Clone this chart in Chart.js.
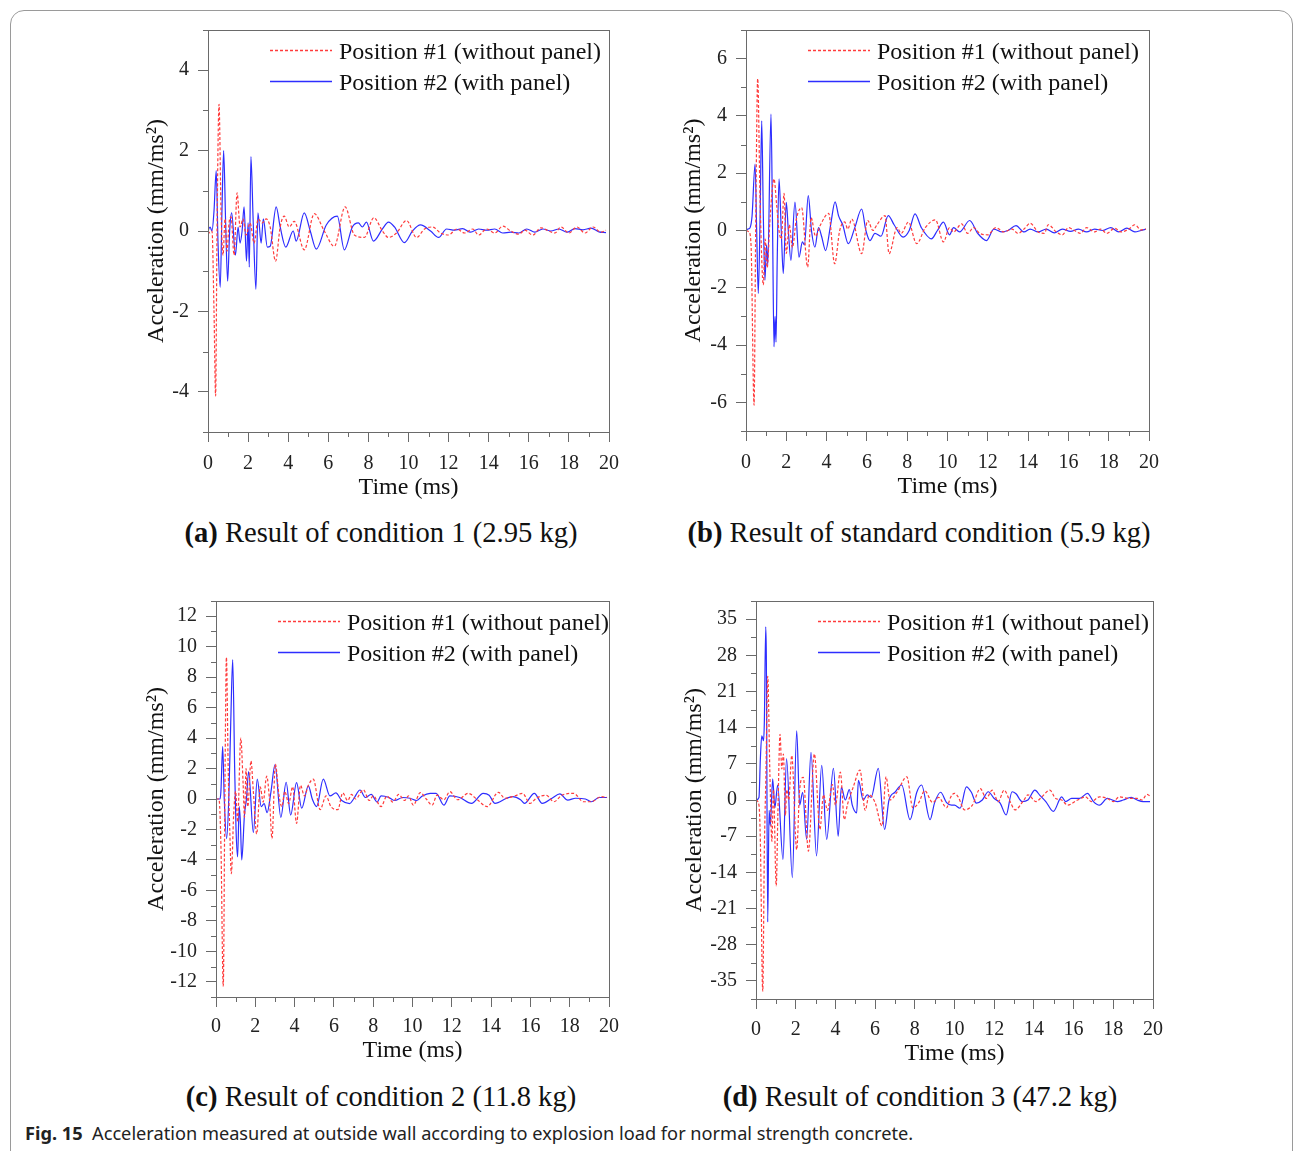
<!DOCTYPE html>
<html>
<head>
<meta charset="utf-8">
<script src="https://cdn.jsdelivr.net/npm/chart.js@4.4.1/dist/chart.umd.min.js"></script>
<style>
  body { margin: 0; background: #fff; width: 1295px; height: 1151px; position: relative; overflow: hidden; font-family: "Liberation Serif", serif; }
  .frame { position: absolute; left: 10px; top: 10px; width: 1283px; height: 1170px; border: 1px solid #9a9a9a; border-radius: 14px; box-sizing: border-box; }
  canvas { position: absolute; }
  .cap { position: absolute; font-size: 28.6px; line-height: 34px; color: #111; white-space: nowrap; transform: translateX(-50%); }
  .fig { position: absolute; left: 25px; top: 1121px; font-family: "Noto Sans", sans-serif; font-size: 18.2px; line-height: 24px; color: #222; white-space: nowrap; }
</style>
</head>
<body>
<div class="frame"></div>

<canvas id="chartA" width="501" height="492" style="left:128px;top:20px"></canvas>
<canvas id="chartB" width="503" height="491" style="left:666px;top:20px"></canvas>
<canvas id="chartC" width="493" height="486" style="left:136px;top:591px"></canvas>
<canvas id="chartD" width="497" height="488" style="left:676px;top:591px"></canvas>

<div class="cap" style="left:381px;top:516px"><b>(a)</b> Result of condition 1 (2.95 kg)</div>
<div class="cap" style="left:919px;top:516px"><b>(b)</b> Result of standard condition (5.9 kg)</div>
<div class="cap" style="left:381px;top:1080px"><b>(c)</b> Result of condition 2 (11.8 kg)</div>
<div class="cap" style="left:920px;top:1080px"><b>(d)</b> Result of condition 3 (47.2 kg)</div>
<div class="fig"><b>Fig. 15</b>&nbsp;&nbsp;Acceleration measured at outside wall according to explosion load for normal strength concrete.</div>

<script>
// ---- labels ----
const labelRed = 'Position #1 (without panel)';
const labelBlue = 'Position #2 (with panel)';

// ---- tick values ----
const xTicks = [0, 2, 4, 6, 8, 10, 12, 14, 16, 18, 20];
const xMinor = [1, 3, 5, 7, 9, 11, 13, 15, 17, 19];
const yTicksA = [-4, -2, 0, 2, 4];
const yMinorA = [-5, -3, -1, 1, 3, 5];
const yTicksB = [-6, -4, -2, 0, 2, 4, 6];
const yMinorB = [-7, -5, -3, -1, 1, 3, 5, 7];
const yTicksC = [-12, -10, -8, -6, -4, -2, 0, 2, 4, 6, 8, 10, 12];
const yMinorC = [-13, -11, -9, -7, -5, -3, -1, 1, 3, 5, 7, 9, 11, 13];
const yTicksD = [-35, -28, -21, -14, -7, 0, 7, 14, 21, 28, 35];
const yMinorD = [-38.5, -31.5, -24.5, -17.5, -10.5, -3.5, 3.5, 10.5, 17.5, 24.5, 31.5, 38.5];

// ---- series: [time (ms), acceleration] ----
// (a) condition 1, 2.95 kg
const redA = [[0,0],[0.1,-0.05],[0.2,0],[0.3,-2.0],[0.38,-4.1],[0.45,0],[0.55,3.15],[0.65,0.5],[0.75,-0.6],[0.85,0.3],
  [0.95,-0.5],[1.05,0.2],[1.15,0.35],[1.3,-0.6],[1.45,0.95],[1.6,0.1],[1.75,0.3],[1.9,-0.1],[2.1,0.2],[2.3,-0.3],
  [2.5,0.3],[2.7,0.2],[2.9,0.3],[3.1,0.1],[3.37,-0.75],[3.6,0.1],[3.8,0.37],[4.05,0.1],[4.3,0.24],[4.8,-0.47],
  [5.3,0.43],[5.8,0],[6.3,-0.38],[6.84,0.6],[7.3,-0.1],[7.8,-0.16],[8.27,0.33],[8.7,0],[9.0,-0.16],[9.4,-0.05],
  [9.9,0.26],[10.4,-0.16],[10.8,0.05],[11.2,0.1],[11.6,-0.05],[12.0,-0.1],[12.4,0.05],[12.8,-0.05],[13.2,0.05],[13.5,-0.1],
  [13.9,0.05],[14.3,-0.05],[14.7,0.12],[15.1,0],[15.5,-0.08],[15.8,0.02],[16.2,-0.1],[16.6,0.08],[17.0,0],[17.3,-0.05],
  [17.6,0.1],[18.0,-0.05],[18.4,0.1],[18.8,-0.05],[19.2,0.1],[19.6,-0.03],[19.85,0.02]];
const blueA = [[0,0],[0.1,0.1],[0.2,0],[0.3,0.5],[0.41,1.5],[0.5,-0.3],[0.61,-1.4],[0.7,0.6],[0.78,2.0],[0.88,0.2],
  [0.98,-1.25],[1.08,0],[1.18,0.45],[1.37,-0.6],[1.5,0.1],[1.6,-0.3],[1.7,0],[1.8,0.6],[1.92,-0.75],[2.0,0.2],
  [2.06,-0.9],[2.14,1.85],[2.25,0.3],[2.39,-1.45],[2.49,0.45],[2.65,-0.3],[2.76,0.3],[2.96,-0.4],[3.1,-0.38],[3.4,0.6],
  [3.6,0.1],[3.88,-0.4],[4.25,0],[4.4,-0.25],[4.8,0.45],[5.1,0],[5.4,-0.45],[5.9,0.15],[6.45,0.37],[6.8,-0.47],
  [7.2,0.1],[7.5,0.2],[7.7,0.1],[7.9,0.22],[8.25,-0.25],[8.7,0.05],[9.0,0.22],[9.3,0.1],[9.8,-0.29],[10.2,0],
  [10.6,0.15],[11.1,0],[11.5,-0.16],[11.9,0.05],[12.3,0.02],[12.7,0.06],[13.1,-0.03],[13.5,0.05],[13.9,0.02],[14.3,0.05],
  [14.7,-0.05],[15.1,-0.03],[15.5,-0.05],[15.9,0.05],[16.3,-0.03],[16.7,0.05],[17.1,0],[17.5,0.05],[17.9,-0.03],[18.3,0.06],
  [18.7,0.03],[19.1,0.07],[19.5,-0.02],[19.85,-0.04]];

// (b) standard condition, 5.9 kg
const redB = [[0,0],[0.15,-0.05],[0.25,-0.5],[0.4,-6.1],[0.48,0],[0.58,5.3],[0.7,1.0],[0.86,-1.9],[0.95,-0.3],[1.05,-1.3],
  [1.2,0.5],[1.39,1.8],[1.52,0.9],[1.62,0.1],[1.75,-0.3],[1.89,1.3],[2.0,-0.8],[2.15,0.2],[2.3,-0.6],[2.5,0.4],
  [2.76,0.8],[3.06,-1.28],[3.23,0.45],[3.45,-0.2],[3.7,0.2],[4.1,0.6],[4.4,-1.16],[4.65,0],[4.9,0.3],[5.05,0.05],
  [5.25,0.4],[5.74,-0.81],[6.04,0.35],[6.3,0],[6.5,0.2],[6.9,0.52],[7.1,-0.81],[7.5,0.1],[7.7,-0.1],[8.06,0.29],
  [8.47,-0.46],[8.9,0.1],[9.4,0.37],[9.8,-0.4],[10.1,0.1],[10.3,-0.05],[10.7,0.23],[11.0,-0.1],[11.3,0.1],[11.6,-0.1],
  [12.0,-0.15],[12.4,0.1],[12.8,-0.05],[13.2,0.05],[13.5,-0.1],[13.8,0.05],[14.1,0.25],[14.5,-0.05],[14.8,-0.1],[15.0,0.2],
  [15.4,-0.05],[15.7,-0.15],[16.0,0.1],[16.3,0],[16.6,-0.1],[16.9,0.1],[17.3,-0.05],[17.6,0.05],[17.9,-0.1],[18.3,0.08],
  [18.6,-0.05],[19.0,0.05],[19.3,0.2],[19.6,0.02],[19.85,0.05]];
const blueB = [[0,0],[0.1,0.05],[0.2,0.1],[0.3,0.5],[0.45,2.32],[0.53,0],[0.61,-2.2],[0.7,0.5],[0.78,3.83],[0.86,0.5],
  [0.94,-1.74],[1.02,-0.5],[1.08,-1.2],[1.24,4.06],[1.32,0],[1.39,-4.06],[1.44,-3.0],[1.49,-3.9],[1.55,-1.0],[1.64,1.8],
  [1.75,0],[1.85,-1.5],[2.0,0.98],[2.1,0],[2.23,-1.04],[2.43,0.99],[2.63,-0.93],[2.8,-0.4],[2.9,-0.5],[3.09,1.22],
  [3.25,0],[3.42,-0.58],[3.6,0.1],[3.75,-0.2],[3.95,-0.7],[4.2,0.2],[4.42,1.0],[4.6,0.5],[4.8,0.2],[5.08,-0.46],
  [5.4,0.1],[5.74,0.75],[5.95,0],[6.15,-0.35],[6.4,-0.1],[6.7,-0.2],[7.06,0.52],[7.35,0.2],[7.8,-0.23],[8.1,0],
  [8.39,0.58],[8.7,0.1],[9.2,-0.29],[9.5,0],[9.8,0.29],[10.1,-0.15],[10.3,0.1],[10.6,-0.05],[11.1,0.35],[11.5,-0.1],
  [11.94,-0.35],[12.3,0.05],[12.7,-0.05],[13.0,0],[13.4,0.17],[13.8,-0.05],[14.1,0.05],[14.5,-0.05],[14.9,0.05],[15.3,-0.08],
  [15.7,0.05],[16.1,-0.03],[16.5,0.05],[16.9,-0.05],[17.3,0.05],[17.7,0],[18.1,0.1],[18.5,-0.05],[18.9,0.08],[19.3,-0.05],
  [19.6,0],[19.85,0.05]];

// (c) condition 2, 11.8 kg
const redC = [[0,0],[0.15,0],[0.25,-3],[0.37,-12.3],[0.45,0],[0.53,9.3],[0.62,2],[0.7,-2],[0.78,-4.9],[0.9,-1],
  [1.0,0.5],[1.1,-1.5],[1.26,4.0],[1.38,1],[1.45,-1.2],[1.53,2.0],[1.62,-0.5],[1.78,2.5],[1.9,0.5],[2.07,-2.3],
  [2.25,0.8],[2.4,-0.2],[2.58,1.5],[2.72,0],[2.85,-2.6],[3.02,2.3],[3.2,0.3],[3.35,-0.5],[3.5,0.5],[3.7,-0.3],
  [3.9,0.8],[4.1,-1.6],[4.3,0.9],[4.5,0.2],[4.7,0.9],[4.95,1.3],[5.3,-0.7],[5.6,0.2],[5.85,-0.5],[6.2,-0.7],
  [6.45,0.4],[6.7,-0.1],[6.9,0.3],[7.1,0],[7.5,0.6],[7.8,-0.1],[8.0,0.2],[8.4,-0.5],[8.7,0.2],[9.0,-0.2],
  [9.3,0.3],[9.6,-0.1],[9.8,0.2],[10.04,-0.4],[10.4,0.42],[10.7,0],[11.0,-0.4],[11.25,0.25],[11.6,-0.05],[11.9,0.48],
  [12.3,-0.05],[12.84,0.37],[13.3,-0.05],[13.8,-0.5],[14.37,0.44],[14.7,0.05],[15.2,0.2],[15.6,0.37],[15.98,-0.29],[16.3,0.05],
  [16.8,0.25],[17.2,-0.18],[17.6,0.25],[18.2,0.37],[18.7,-0.18],[19.1,-0.18],[19.6,0.15],[19.9,0.1]];
const blueC = [[0,0],[0.2,0],[0.25,0.5],[0.34,3.45],[0.42,0],[0.54,-2.6],[0.65,0],[0.75,5],[0.85,9.16],[0.95,2],
  [1.02,-2],[1.1,-3.8],[1.18,-0.5],[1.24,-1.5],[1.31,-4.0],[1.45,-1],[1.55,0],[1.66,1.8],[1.9,-2.2],[2.1,1.3],
  [2.3,-0.5],[2.45,-0.3],[2.6,-0.9],[2.8,0.5],[3.0,2.25],[3.3,-1.2],[3.57,1.1],[3.8,-1.05],[4.1,1.08],[4.36,-0.6],
  [4.7,0.86],[4.9,0],[5.12,-0.5],[5.46,1.3],[5.8,0.2],[6.1,0.4],[6.4,-0.1],[6.8,-0.3],[7.0,0],[7.33,0.59],
  [7.6,0.1],[7.9,0.3],[8.2,-0.2],[8.4,0.2],[8.8,0.1],[9.1,-0.1],[9.5,0.1],[9.87,0.05],[10.2,-0.1],[10.5,0.2],
  [10.9,0.37],[11.2,0.37],[11.6,-0.4],[11.9,0.2],[12.4,0.1],[13.0,-0.29],[13.6,0.37],[13.9,0.25],[14.2,-0.29],[14.8,0.05],
  [15.1,0.15],[15.5,-0.05],[15.7,-0.29],[16.2,0.37],[16.6,-0.29],[17.1,0.05],[17.5,0.33],[17.9,-0.07],[18.3,0.05],[18.8,0],
  [19.1,-0.18],[19.5,0.1],[19.9,0.1]];

// (d) condition 3, 47.2 kg
const redD = [[0,0],[0.15,-1],[0.22,-8],[0.34,-37],[0.42,-10],[0.5,5],[0.59,23.9],[0.7,5],[0.8,-8],[0.88,2],
  [1.02,-16.6],[1.1,-3],[1.21,12.7],[1.3,6],[1.38,8.9],[1.48,-3],[1.55,2],[1.65,0],[1.8,8.6],[2.05,-9.6],
  [2.2,2],[2.38,4.4],[2.64,-9.9],[2.94,8.9],[3.22,-5.7],[3.4,1],[3.6,-2],[3.85,3],[4.0,-1],[4.25,5.4],
  [4.45,-3.8],[4.6,-1],[4.9,2.5],[5.24,5.8],[5.5,-2],[5.7,1],[6.0,-0.5],[6.35,-5],[6.55,4.5],[6.75,0],
  [7.1,1.5],[7.6,4.5],[7.9,-1.5],[8.2,-0.5],[8.5,1.8],[8.9,-0.5],[9.2,0.5],[9.6,-1.5],[9.8,0.5],[10.0,1.3],
  [10.2,0.5],[10.5,-1.9],[10.9,-1.0],[11.3,2.2],[11.6,0.3],[11.9,1.9],[12.2,-0.3],[12.5,1.9],[12.8,-0.3],[13.05,-1.9],
  [13.5,0],[13.7,1.0],[14.1,-0.3],[14.4,0.6],[14.8,1.9],[15.1,0.3],[15.4,0],[15.7,-1.0],[16.2,0],[16.6,0.6],
  [16.9,-0.3],[17.3,0.6],[17.7,0.3],[18.0,-0.3],[18.3,0.6],[18.8,0.3],[19.2,0.3],[19.45,0],[19.7,1.1],[19.9,0.6]];
const blueD = [[0,0],[0.15,0.5],[0.22,8],[0.29,12.4],[0.38,11.5],[0.42,15],[0.49,33.5],[0.52,28],[0.59,-23.6],[0.66,-2],
  [0.72,-5],[0.84,4.1],[0.95,-1.5],[1.09,2.9],[1.36,-11.5],[1.54,8.0],[1.83,-15],[2.05,13.4],[2.2,-1],[2.35,1.5],
  [2.55,-7.6],[2.77,9.2],[3.05,-10.8],[3.31,6.7],[3.56,-7.6],[3.9,6.1],[4.14,-7.0],[4.3,2.5],[4.5,0],[4.7,2],
  [4.85,-1],[5.07,-2.5],[5.16,3.8],[5.4,0],[5.6,1],[5.8,0.5],[6.16,6.1],[6.48,-5.7],[6.7,0],[7.0,1.5],
  [7.34,2.9],[7.76,-3.8],[8.1,1.5],[8.34,2.9],[8.77,-3.8],[9.0,-0.5],[9.3,1.5],[9.6,-0.5],[9.85,-1.0],[10.0,-1],
  [10.28,-1.6],[10.6,2.55],[10.85,1.5],[11.1,-0.6],[11.4,0],[11.7,1.6],[12.0,0.3],[12.3,-0.6],[12.6,-2.9],[12.9,1.6],
  [13.1,1.2],[13.4,-0.3],[13.7,0],[14.05,1.9],[14.3,0.9],[14.6,-0.3],[14.98,-2.2],[15.4,0.6],[15.6,-0.3],[15.9,0.3],
  [16.3,0.3],[16.7,1.3],[17.0,-0.3],[17.3,-1.0],[17.7,0.3],[18.2,-0.3],[18.5,0],[18.9,0.5],[19.2,0],[19.5,-0.3],
  [19.85,-0.3]];

const serif = 'Liberation Serif';
const axisColor = '#6a6a6a';
const redColor = 'rgb(255, 60, 60)';
const blueColor = 'rgb(45, 45, 255)';

// frame, minor ticks and in-plot legend
const panelDecor = {
  id: 'panelDecor',
  afterDraw(chart, args, opts) {
    const { ctx, chartArea: a, scales: { x, y } } = chart;
    ctx.save();
    ctx.strokeStyle = axisColor;
    ctx.lineWidth = 1;
    ctx.strokeRect(Math.round(a.left) + 0.5, Math.round(a.top) + 0.5, Math.round(a.right - a.left), Math.round(a.bottom - a.top));
    ctx.beginPath();
    opts.minorX.forEach(v => {
      const px = Math.round(x.getPixelForValue(v)) + 0.5;
      ctx.moveTo(px, a.bottom); ctx.lineTo(px, a.bottom + 5);
    });
    opts.minorY.forEach(v => {
      const py = Math.round(y.getPixelForValue(v)) + 0.5;
      ctx.moveTo(a.left, py); ctx.lineTo(a.left - 5, py);
    });
    ctx.stroke();

    // legend inside the plot
    chart.data.datasets.forEach((ds, i) => {
      const ly = Math.round(a.top + 20 + i * 31) + 0.5;
      ctx.strokeStyle = ds.borderColor;
      ctx.lineWidth = 1.3;
      ctx.setLineDash(ds.borderDash || []);
      ctx.beginPath();
      ctx.moveTo(a.left + 62, ly); ctx.lineTo(a.left + 124, ly);
      ctx.stroke();
      ctx.setLineDash([]);
      ctx.fillStyle = '#111';
      ctx.font = '24px "' + serif + '"';
      ctx.textBaseline = 'middle';
      ctx.fillText(ds.label, a.left + 131, ly + 2);
    });
    ctx.restore();
  }
};

// keep the plot box exactly where the figure has it
function fixY(s) { s.width = 80; s.paddingTop = 0; s.paddingBottom = 0; }
function fixX(s) { s.height = 80; s.paddingLeft = 0; s.paddingRight = 0; }

function makePanel(id, red, blue, yMin, yMax, yTicks, yMinor, yTitlePad, xTitlePad, xTickPad) {
  const toXY = pts => pts.map(p => ({ x: p[0], y: p[1] }));
  return new Chart(document.getElementById(id), {
    type: 'line',
    data: {
      datasets: [
        { label: labelRed, data: toXY(red), borderColor: redColor, borderWidth: 1.2, borderDash: [3, 2],
          pointRadius: 0, cubicInterpolationMode: 'monotone', fill: false },
        { label: labelBlue, data: toXY(blue), borderColor: blueColor, borderWidth: 1.2,
          pointRadius: 0, cubicInterpolationMode: 'monotone', fill: false }
      ]
    },
    options: {
      responsive: false,
      animation: false,
      layout: { padding: { top: 10, right: 20, left: 0, bottom: 0 } },
      plugins: {
        legend: { display: false },
        tooltip: { enabled: false },
        panelDecor: { minorX: xMinor, minorY: yMinor }
      },
      scales: {
        x: {
          type: 'linear', min: 0, max: 20,
          afterBuildTicks: s => { s.ticks = xTicks.map(v => ({ value: v })); },
          afterFit: fixX,
          grid: { drawOnChartArea: false, drawTicks: true, tickLength: 10, color: axisColor },
          border: { display: true, color: axisColor },
          ticks: { color: '#222', font: { family: serif, size: 20 }, padding: xTickPad, maxRotation: 0, autoSkip: false },
          title: { display: true, text: 'Time (ms)', color: '#111', font: { family: serif, size: 24 },
            padding: { top: 0, bottom: xTitlePad } }
        },
        y: {
          type: 'linear', min: yMin, max: yMax,
          afterBuildTicks: s => { s.ticks = yTicks.map(v => ({ value: v })); },
          afterFit: fixY,
          grid: { drawOnChartArea: false, drawTicks: true, tickLength: 10, color: axisColor },
          border: { display: true, color: axisColor },
          ticks: { color: '#222', font: { family: serif, size: 20 }, padding: 9, autoSkip: false },
          title: { display: true, text: 'Acceleration (mm/ms²)', color: '#111', font: { family: serif, size: 24 },
            padding: { top: yTitlePad, bottom: 0 } }
        }
      }
    },
    plugins: [panelDecor]
  });
}

makePanel('chartA', redA, blueA, -5, 5, yTicksA, yMinorA, 14.6, 9.6, 10);
makePanel('chartB', redB, blueB, -7, 7, yTicksB, yMinorB, 13.6, 9.6, 10);
makePanel('chartC', redC, blueC, -13, 13, yTicksC, yMinorC, 6.6, 11.6, 8);
makePanel('chartD', redD, blueD, -38.5, 38.5, yTicksD, yMinorD, 4.6, 10.6, 9);
</script>
</body>
</html>
